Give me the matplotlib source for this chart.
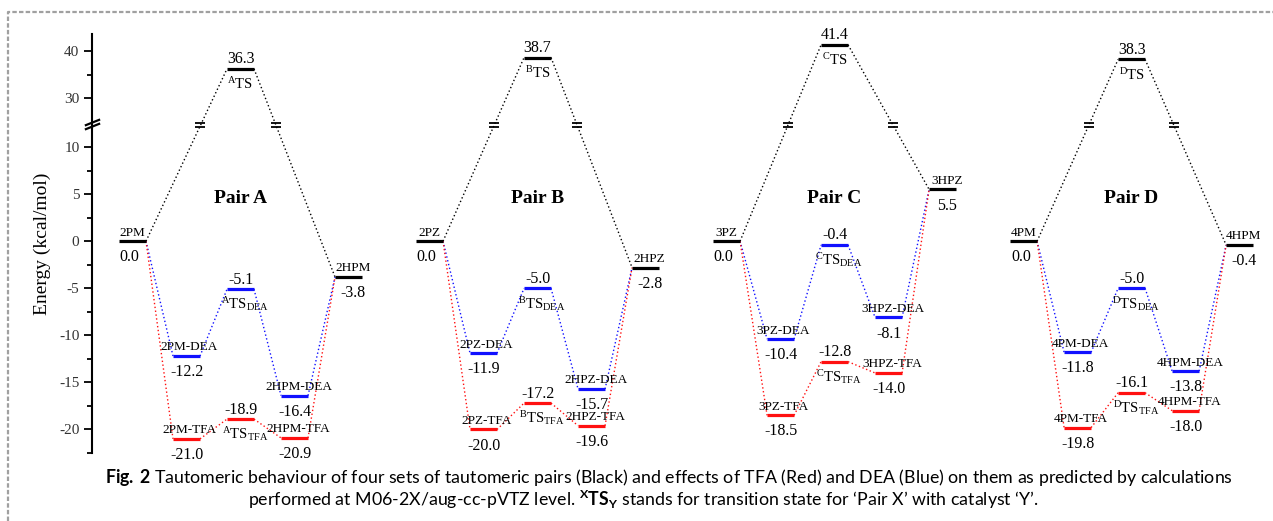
import numpy as np
import matplotlib
matplotlib.use('Agg')
import matplotlib.pyplot as plt
from matplotlib.path import Path
from matplotlib.lines import Line2D

plt.rcParams['font.family'] = ['Liberation Serif', 'DejaVu Serif']
plt.rcParams['mathtext.fontset'] = 'custom'
plt.rcParams['mathtext.rm'] = 'Liberation Serif'
plt.rcParams['mathtext.bf'] = 'Lato:bold'
plt.rcParams['mathtext.sf'] = 'Lato'

# energies in kcal/mol
pairs = ['A', 'B', 'C', 'D']
reactants = ['2PM', '2PZ', '3PZ', '4PM']
products = ['2HPM', '2HPZ', '3HPZ', '4HPM']
e_react = [0.0, 0.0, 0.0, 0.0]
e_ts = [36.3, 38.7, 41.4, 38.3]
e_prod = [-3.8, -2.8, 5.5, -0.4]
e_dea = [[-12.2, -5.1, -16.4], [-11.9, -5.0, -15.7],
         [-10.4, -0.4, -8.1], [-11.8, -5.0, -13.8]]
e_tfa = [[-21.0, -18.9, -20.9], [-20.0, -17.2, -19.6],
         [-18.5, -12.8, -14.0], [-19.8, -16.1, -18.0]]

major_ticks = [-20, -15, -10, -5, 0, 5, 10, 30, 40]
minor_ticks = [-22.5, -17.5, -12.5, -7.5, -2.5, 2.5, 7.5, 35]

# broken energy axis: linear up to 12.3, then from 24.3 on at half scale
lo_break, hi_break = 12.3, 24.3
src = [-100.0, lo_break, hi_break, 100.0]
dst = [-100.0, lo_break, lo_break + 0.01, lo_break + 0.01 + (100 - hi_break) * 0.5]


def fwd(y):
    return np.interp(y, src, dst)


def inv(y):
    return np.interp(y, dst, src)


W, H = 1273, 521
fig = plt.figure(figsize=(W / 100, H / 100), dpi=100)
ax = fig.add_axes([92 / W, (H - 453) / H, (1265 - 92) / W, (453 - 34) / H])
ax.set_yscale('function', functions=(fwd, inv))
ax.set_xlim(-0.75, 20.97)
ax.set_ylim(-22.5, 43.7)

half = 0.25
step = 5.5
dot = (0, (1, 1.8))
colors = {'k': '#000000', 'b': '#1010ff', 'r': '#ff1010'}


def level(x, e, c):
    ax.plot([x - half, x + half], [e, e], color=c, lw=2.3, solid_capstyle='butt', zorder=3)


def link(xa, ea, xb, eb, c):
    ax.plot([xa + half, xb - half], [ea, eb], color=c, lw=1.0, ls=dot, zorder=2)


def label(x, e, text, above, size, dx=0):
    dy = 4 if above else -14.5
    ax.annotate(text, (x, e), xytext=(dx, dy), textcoords='offset points',
                ha='center', va='baseline', fontsize=size)


def ts_name(p, sub=None):
    if sub:
        return r'$\mathrm{{}^{%s}TS_{%s}}$' % (p, sub)
    return r'$\mathrm{{}^{%s}TS}$' % p


val_fs, name_fs, ts_fs = 11.5, 9.5, 10.5
eq_mark = Path([(-1, 0.5), (1, 0.5), (-1, -0.5), (1, -0.5)],
               [Path.MOVETO, Path.LINETO, Path.MOVETO, Path.LINETO])

for i, p in enumerate(pairs):
    x = i * step + np.arange(5)

    # uncatalysed path (black)
    level(x[0], e_react[i], colors['k'])
    level(x[2], e_ts[i], colors['k'])
    level(x[4], e_prod[i], colors['k'])
    link(x[0], e_react[i], x[2], e_ts[i], colors['k'])
    link(x[2], e_ts[i], x[4], e_prod[i], colors['k'])

    # "=" marks where the black lines cross the axis break
    for xa, ea, xb, eb in [(x[0] + half, e_react[i], x[2] - half, e_ts[i]),
                           (x[2] + half, e_ts[i], x[4] - half, e_prod[i])]:
        ya, yb = fwd(ea), fwd(eb)
        t = (lo_break - ya) / (yb - ya)
        ax.plot([xa + t * (xb - xa)], [lo_break], ls='none', marker=eq_mark,
                ms=6.5, mew=1.3, color='k', zorder=4)

    label(x[0], e_react[i], reactants[i], True, name_fs)
    label(x[0], e_react[i], f'{e_react[i]:.1f}', False, val_fs, dx=-2)
    label(x[2], e_ts[i], f'{e_ts[i]:.1f}', True, val_fs)
    label(x[2], e_ts[i], ts_name(p), False, ts_fs)
    label(x[4], e_prod[i], products[i], True, name_fs, dx=3)
    label(x[4], e_prod[i], f'{e_prod[i]:.1f}', False, val_fs, dx=3)

    # catalysed paths
    for key, cat, vals in [('b', 'DEA', e_dea[i]), ('r', 'TFA', e_tfa[i])]:
        c = colors[key]
        pts = [e_react[i]] + list(vals) + [e_prod[i]]
        for j in range(4):
            link(x[j], pts[j], x[j + 1], pts[j + 1], c)
        for j, e in enumerate(vals, start=1):
            level(x[j], e, c)
        label(x[1], vals[0], f'{reactants[i]}-{cat}', True, name_fs, dx=2)
        label(x[1], vals[0], f'{vals[0]:.1f}', False, val_fs)
        label(x[2], vals[1], f'{vals[1]:.1f}', True, val_fs)
        label(x[2], vals[1], ts_name(p, cat), False, ts_fs, dx=3)
        label(x[3], vals[2], f'{products[i]}-{cat}', True, name_fs, dx=3)
        label(x[3], vals[2], f'{vals[2]:.1f}', False, val_fs)

    ax.text(x[2], 4.5, f'Pair {p}', ha='center', va='center',
            fontsize=14, fontweight='bold')

# axis styling
for side in ['top', 'right', 'bottom']:
    ax.spines[side].set_visible(False)
ax.spines['left'].set_linewidth(1.5)
ax.xaxis.set_visible(False)
ax.set_yticks(major_ticks)
ax.set_yticklabels([str(t) for t in major_ticks])
ax.set_yticks(minor_ticks, minor=True)
ax.tick_params(axis='y', which='major', length=6, width=1.3, labelsize=11,
               labelcolor='#333333', pad=3)
ax.tick_params(axis='y', which='minor', length=3.5, width=1.3)
ax.set_ylabel('Energy (kcal/mol)', fontsize=14, labelpad=6)

# "//" on the spine at the break
slash = Path([(-1, -0.4), (1, 0.4)], [Path.MOVETO, Path.LINETO])
ax.plot([-0.75, -0.75], [12.2, 24.95], ls='none', marker=slash, ms=11,
        mew=1.6, color='k', clip_on=False, zorder=5)

# caption
cap1 = (r'$\mathbf{Fig.\,2}$ Tautomeric behaviour of four sets of tautomeric pairs (Black) '
        'and effects of TFA (Red) and DEA (Blue) on them as predicted by calculations')
cap2 = (r'performed at M06-2X/aug-cc-pVTZ level. ${}^{\mathbf{X}}\mathbf{TS}_{\mathbf{Y}}$ '
        'stands for transition state for ‘Pair X’ with catalyst ‘Y’.')
fig.text(669 / W, 1 - 477 / H, cap1, ha='center', va='center', fontsize=12.8,
         family=['Lato', 'DejaVu Sans'])
fig.text(643 / W, 1 - 499 / H, cap2, ha='center', va='center', fontsize=12.8,
         family=['Lato', 'DejaVu Sans'])

# dotted frame
fig.add_artist(Line2D([8 / W, 8 / W, 1], [0, 1 - 12 / H, 1 - 12 / H],
                      transform=fig.transFigure, color='#a0a0a0', lw=1.6,
                      ls=(0, (2, 1))))

fig.savefig('out.png', dpi=100)
